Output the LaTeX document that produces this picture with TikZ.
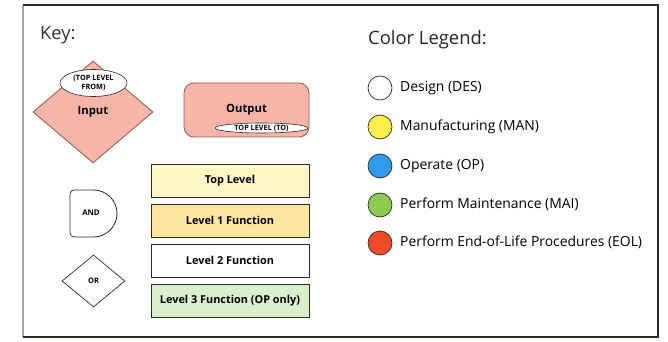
\documentclass[tikz,border=0pt]{standalone}
\usepackage{fontspec}
\setmainfont{Open Sans}
\usepackage{tikz}
\usetikzlibrary{positioning,
                shapes.geometric}
\usepackage{xcolor}
\definecolor{ioSalmon}{HTML}{F8B5A8}
\definecolor{ioEdge}{HTML}{8A5A4E}
\definecolor{topYellow}{HTML}{FFF8C6}
\definecolor{lvlOne}{HTML}{FFE69E}
\definecolor{lvlThree}{HTML}{DCEFCC}
\definecolor{desWhite}{HTML}{FFFFFF}
\definecolor{manYellow}{HTML}{FFF04C}
\definecolor{opBlue}{HTML}{2E9AF0}
\definecolor{maiGreen}{HTML}{8BCB50}
\definecolor{eolRed}{HTML}{EF4A2A}
\definecolor{edgeDark}{HTML}{2E2A22}

\begin{document}
\begin{tikzpicture}[x=1pt,y=1pt]

\tikzset{
levelbox/.style={
draw=edgeDark,
line width=0.9pt,
minimum width=158pt,
minimum height=33pt,
inner sep=0pt,
font=\fontsize{10.9}{12}\selectfont\bfseries
},
tagellipse/.style={
draw=edgeDark,
fill=white,
ellipse,
inner sep=0pt,
line width=0.6pt,
align=center,
font=\fontsize{7.3}{8.6}\selectfont\bfseries
},
legenddot/.style={
draw=edgeDark,
circle,
minimum size=24pt,
inner sep=0pt,
line width=0.7pt
},
legendtext/.style={
anchor=base west,
inner sep=0pt,
font=\fontsize{13.9}{16}\selectfont
}
}

\useasboundingbox (0,0) rectangle (668,342);

%--------------------------------------------------
% FRAME
%--------------------------------------------------

\draw[gray!70,line width=1.1pt] (23,5) -- (23,337);
\draw[edgeDark,line width=1.1pt] (23,337) -- (658,337) -- (658,5) -- (23,5);

%--------------------------------------------------
% KEY
%--------------------------------------------------

\node[anchor=base west,inner sep=0pt,font=\fontsize{18.3}{20}\selectfont,text=black!80] (keytitle) at (40,302) {Key:};

\node[diamond,draw=ioEdge,fill=ioSalmon,line width=0.8pt,aspect=1.18,
      minimum width=120pt,minimum height=102pt,inner sep=0pt,
      font=\fontsize{11.3}{13}\selectfont\bfseries] (input) at (93,230) {Input};
\node[tagellipse,minimum width=67pt,minimum height=27pt] (inputtag) at (93.5,259) {(TOP LEVEL\\FROM)};

\node[draw=ioEdge,fill=ioSalmon,line width=0.8pt,rounded corners=10pt,
      minimum width=125pt,minimum height=54pt,inner sep=0pt,
      font=\fontsize{11.3}{13}\selectfont\bfseries] (output) at (246.5,232) {Output};
\node[tagellipse,minimum width=93pt,minimum height=10pt] (outputtag) at (261.5,214) {TOP LEVEL (TO)};

\node[levelbox,fill=topYellow] (toplevel) at (230,161.5) {Top Level};
\node[levelbox,fill=lvlOne] (levelone) at (230,121.5) {Level 1 Function};
\node[levelbox,fill=white] (leveltwo) at (230,81.5) {Level 2 Function};
\node[levelbox,fill=lvlThree] (levelthree) at (230,41.5) {Level 3 Function (OP only)};

% AND gate
\draw[edgeDark,line width=0.8pt,rounded corners=4pt] (93.5,105) -- (70,105) -- (70,152) -- (93.5,152);
\draw[edgeDark,line width=0.8pt] (93.5,152) arc[start angle=90,end angle=-90,radius=23.5];
\node[font=\fontsize{7.8}{9}\selectfont\bfseries] (andgate) at (91,129) {AND};

\node[diamond,draw=edgeDark,line width=0.7pt,aspect=1.21,
      minimum width=63pt,minimum height=52pt,inner sep=0pt,
      font=\fontsize{7.5}{9}\selectfont\bfseries] (orgate) at (93.5,61) {OR};

%--------------------------------------------------
% COLOR LEGEND
%--------------------------------------------------

\node[anchor=base west,inner sep=0pt,font=\fontsize{18.4}{21}\selectfont,text=black!85] (legendtitle) at (368,297) {Color Legend:};

\node[legenddot,fill=desWhite] (des) at (380,254) {};
\node[legendtext] (destext) at (400,250.5) {Design (DES)};

\node[legenddot,fill=manYellow] (man) at (380,215) {};
\node[legendtext] (mantext) at (400,211.5) {Manufacturing (MAN)};

\node[legenddot,fill=opBlue] (op) at (380,176) {};
\node[legendtext] (optext) at (400,172.5) {Operate (OP)};

\node[legenddot,fill=maiGreen] (mai) at (380,137) {};
\node[legendtext] (maitext) at (400,133.5) {Perform Maintenance (MAI)};

\node[legenddot,fill=eolRed] (eol) at (380,99) {};
\node[legendtext] (eoltext) at (400,95.5) {Perform End-of-Life Procedures (EOL)};

\end{tikzpicture}
\end{document}
